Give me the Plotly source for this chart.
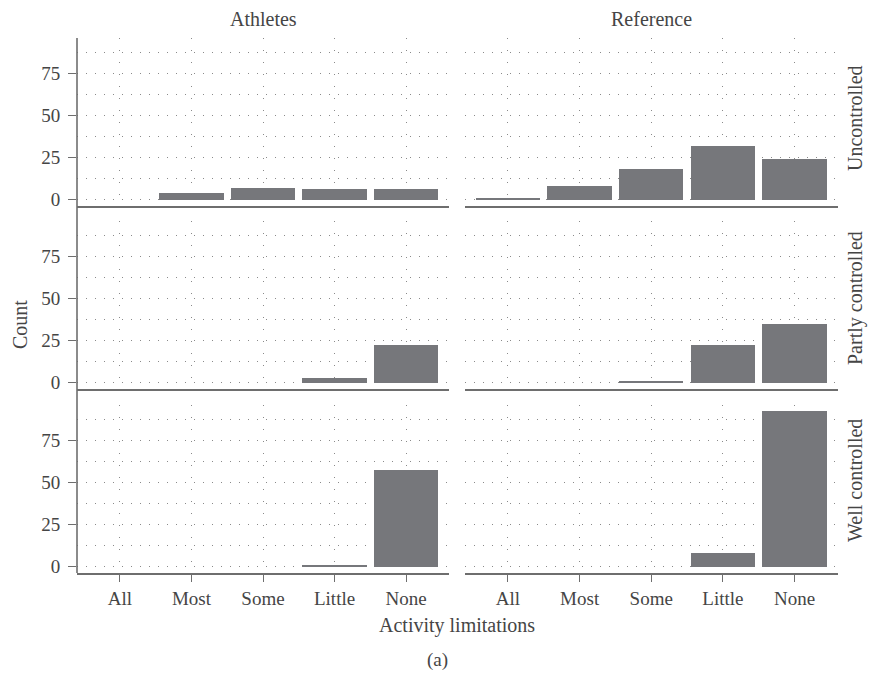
import plotly.graph_objects as go

# ---------------- data ----------------
categories = ["All", "Most", "Some", "Little", "None"]
groups = ["Athletes", "Reference"]
control_levels = ["Uncontrolled", "Partly controlled", "Well controlled"]

athletes_uncontrolled = [0, 4, 7, 6, 6]
reference_uncontrolled = [1, 8, 18, 32, 24]
athletes_partly = [0, 0, 0, 3, 22]
reference_partly = [0, 0, 1, 22, 35]
athletes_well = [0, 0, 0, 1, 57]
reference_well = [0, 0, 0, 8, 92]

y_ticks = [0, 25, 50, 75]
y_tick_labels = ["0", "25", "50", "75"]

values = [
    [athletes_uncontrolled, reference_uncontrolled],
    [athletes_partly, reference_partly],
    [athletes_well, reference_well],
]

# ---------------- styling / layout ----------------
# page body has an 8px default margin, so the canvas is shrunk and offset
OFF = 8
W, H = 889 - 2 * OFF, 679 - 2 * OFF
FONT = "Liberation Serif"
TXT = "#454545"
BAR = "#76777b"
AXC = "#6e6e6e"
GRIDC = "#8a8a8a"

col_px = [(77, 449), (465, 837.5)]
row_px = [(38, 206), (221, 389), (405, 573)]


def px_x(x):
    return (x - OFF) / W


def px_y(y):
    return 1 - (y - OFF) / H


fig = go.Figure()
layout = {}

for r in range(3):
    for c in range(2):
        idx = r * 2 + c + 1
        sx = "" if idx == 1 else str(idx)
        fig.add_trace(go.Bar(
            x=categories, y=values[r][c],
            xaxis="x" + sx, yaxis="y" + sx,
            marker=dict(color=BAR, line=dict(width=0)),
            width=0.9, showlegend=False, hoverinfo="x+y",
        ))
        bottom = (r == 2)
        left = (c == 0)
        layout["xaxis" + sx] = dict(
            domain=[px_x(col_px[c][0]), px_x(col_px[c][1])],
            anchor="y" + sx,
            type="category",
            categoryorder="array", categoryarray=categories,
            range=[-0.6, 4.6],
            showline=True, linecolor=AXC, linewidth=1.6,
            showgrid=True, gridcolor=GRIDC, gridwidth=1, griddash="1px,11px",
            ticks="outside" if bottom else "", ticklen=7, tickwidth=1.3, tickcolor=AXC,
            showticklabels=bottom,
            tickfont=dict(family=FONT, size=19, color=TXT),
            zeroline=False, fixedrange=True, automargin=False,
        )
        layout["yaxis" + sx] = dict(
            domain=[px_y(row_px[r][1]), px_y(row_px[r][0])],
            anchor="x" + sx,
            range=[-3.8, 95.8],
            tickmode="array", tickvals=y_ticks, ticktext=y_tick_labels,
            showline=False,
            showgrid=True, gridcolor=GRIDC, gridwidth=1, griddash="1px,8px",
            minor=dict(dtick=12.5, tick0=0, showgrid=True, gridcolor=GRIDC,
                       gridwidth=1, griddash="1px,8px", ticks=""),
            ticks="outside" if left else "", ticklen=8, tickwidth=1.3, tickcolor=AXC,
            showticklabels=left, ticklabelstandoff=4,
            tickfont=dict(family=FONT, size=19, color=TXT),
            zeroline=False, fixedrange=True, automargin=False,
        )

annotations = []
for c, g in enumerate(groups):
    annotations.append(dict(
        text=g, x=px_x((col_px[c][0] + col_px[c][1]) / 2), y=px_y(19),
        xref="paper", yref="paper", showarrow=False,
        font=dict(family=FONT, size=20, color=TXT), xanchor="center", yanchor="middle"))
row_centers = [118, 298, 481]
for r, lvl in enumerate(control_levels):
    annotations.append(dict(
        text=lvl, x=px_x(855), y=px_y(row_centers[r]),
        xref="paper", yref="paper", showarrow=False, textangle=-90,
        font=dict(family=FONT, size=20, color=TXT), xanchor="center", yanchor="middle"))
annotations.append(dict(
    text="Activity limitations", x=px_x(457), y=px_y(625),
    xref="paper", yref="paper", showarrow=False,
    font=dict(family=FONT, size=20, color=TXT), xanchor="center", yanchor="middle"))
annotations.append(dict(
    text="Count", x=px_x(20), y=px_y(325),
    xref="paper", yref="paper", showarrow=False, textangle=-90,
    font=dict(family=FONT, size=20, color=TXT), xanchor="center", yanchor="middle"))
annotations.append(dict(
    text="(a)", x=px_x(437), y=px_y(660),
    xref="paper", yref="paper", showarrow=False,
    font=dict(family=FONT, size=19, color=TXT), xanchor="center", yanchor="middle"))

shapes = [dict(type="line", xref="paper", yref="paper",
               x0=px_x(col_px[0][0]), x1=px_x(col_px[0][0]),
               y0=px_y(row_px[0][0]), y1=px_y(row_px[2][1]),
               line=dict(color=AXC, width=1.6))]

fig.update_layout(
    width=W, height=H,
    margin=dict(l=0, r=0, t=0, b=0, autoexpand=False),
    paper_bgcolor="white", plot_bgcolor="white",
    annotations=annotations, shapes=shapes,
    bargap=0, showlegend=False,
    **layout,
)

fig.write_html("out.html")
